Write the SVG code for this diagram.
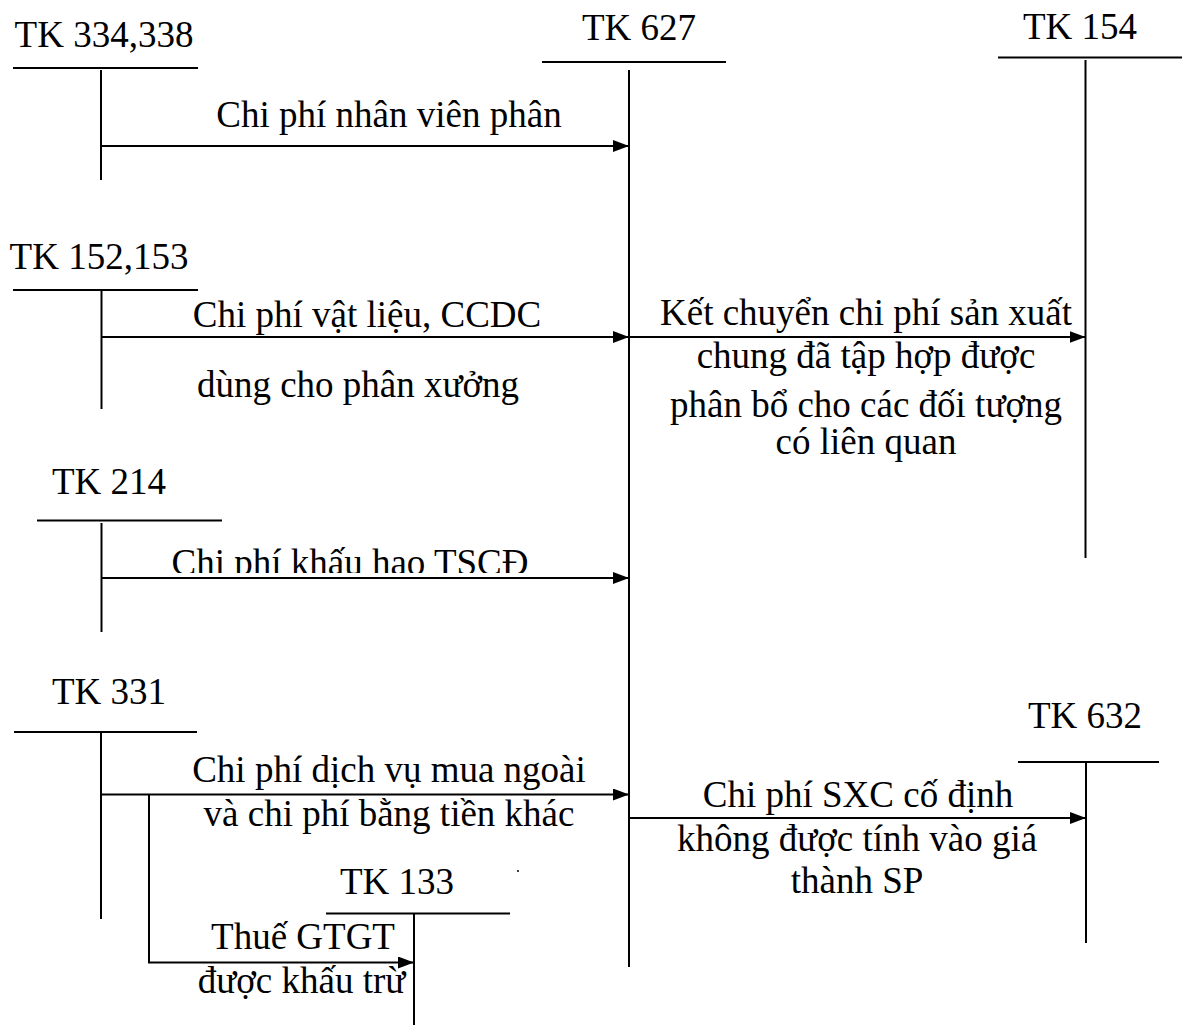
<svg xmlns="http://www.w3.org/2000/svg" width="1189" height="1025" viewBox="0 0 1189 1025">
<style>
text{font-family:"Liberation Serif","Times New Roman",serif;font-size:37px;fill:#000;text-anchor:middle}
line,path.c{stroke:#000;stroke-width:2;fill:none}
</style>
<defs>
<marker id="ah" markerUnits="userSpaceOnUse" markerWidth="16" markerHeight="12" refX="16" refY="6" orient="auto">
<path d="M0,0 L16,6 L0,12 Z" fill="#000"/>
</marker>
<clipPath id="clip214"><rect x="0" y="500" width="700" height="73"/></clipPath>
</defs>
<rect width="1189" height="1025" fill="#fff"/>
<g id="tk334">
<text x="104" y="47">TK 334,338</text>
<line x1="13" y1="68" x2="198" y2="68"/>
<line x1="101" y1="70" x2="101" y2="180"/>
</g>
<g id="tk627">
<text x="639" y="40">TK 627</text>
<line x1="542" y1="62" x2="726" y2="62"/>
<line x1="629" y1="70" x2="629" y2="967"/>
</g>
<g id="tk154">
<text x="1080" y="39">TK 154</text>
<line x1="998" y1="57.5" x2="1182" y2="57.5"/>
<line x1="1085.5" y1="60" x2="1085.5" y2="558"/>
</g>
<g id="tk152">
<text x="99" y="269">TK 152,153</text>
<line x1="13" y1="290" x2="198" y2="290"/>
<line x1="101.5" y1="291" x2="101.5" y2="409"/>
</g>
<g id="tk214">
<text x="109" y="494">TK 214</text>
<line x1="37" y1="520.5" x2="222" y2="520.5"/>
<line x1="101.5" y1="523" x2="101.5" y2="632"/>
</g>
<g id="tk331">
<text x="109" y="704">TK 331</text>
<line x1="14" y1="732" x2="197" y2="732"/>
<line x1="101" y1="732" x2="101" y2="919"/>
</g>
<g id="tk632">
<text x="1085" y="728">TK 632</text>
<line x1="1018" y1="762" x2="1159" y2="762"/>
<line x1="1086" y1="762" x2="1086" y2="943"/>
</g>
<g id="tk133">
<text x="397" y="894">TK 133</text>
<line x1="326" y1="913.5" x2="510" y2="913.5"/>
<line x1="414" y1="913" x2="414" y2="1025"/>
</g>
<g id="connectors">
<line x1="101" y1="146" x2="629" y2="146" marker-end="url(#ah)"/>
<line x1="101" y1="337" x2="629" y2="337" marker-end="url(#ah)"/>
<line x1="629" y1="337" x2="1085.5" y2="337" marker-end="url(#ah)"/>
<line x1="101" y1="578" x2="629" y2="578" marker-end="url(#ah)"/>
<line x1="101" y1="794.5" x2="629" y2="794.5" marker-end="url(#ah)"/>
<path class="c" d="M149,794.5 V962.5 H414" marker-end="url(#ah)"/>
<line x1="629" y1="818" x2="1086" y2="818" marker-end="url(#ah)"/>
</g>
<g id="labels">
<text x="389" y="127">Chi phí nhân viên phân</text>
<text x="367" y="327">Chi phí vật liệu, CCDC</text>
<text x="358" y="397">dùng cho phân xưởng</text>
<text x="866" y="325">Kết chuyển chi phí sản xuất</text>
<text x="866" y="368">chung đã tập hợp được</text>
<text x="866" y="417">phân bổ cho các đối tượng</text>
<text x="866" y="454">có liên quan</text>
<text x="350" y="575" clip-path="url(#clip214)">Chi phí khấu hao TSCĐ</text>
<text x="389" y="782">Chi phí dịch vụ mua ngoài</text>
<text x="389" y="826">và chi phí bằng tiền khác</text>
<text x="858" y="807">Chi phí SXC cố định</text>
<text x="857" y="851">không được tính vào giá</text>
<text x="857" y="893">thành SP</text>
<text x="303" y="949">Thuế GTGT</text>
<text x="301.5" y="993">được khấu trừ</text>
</g>
<circle cx="518" cy="871" r="1" fill="#000"/>
</svg>
